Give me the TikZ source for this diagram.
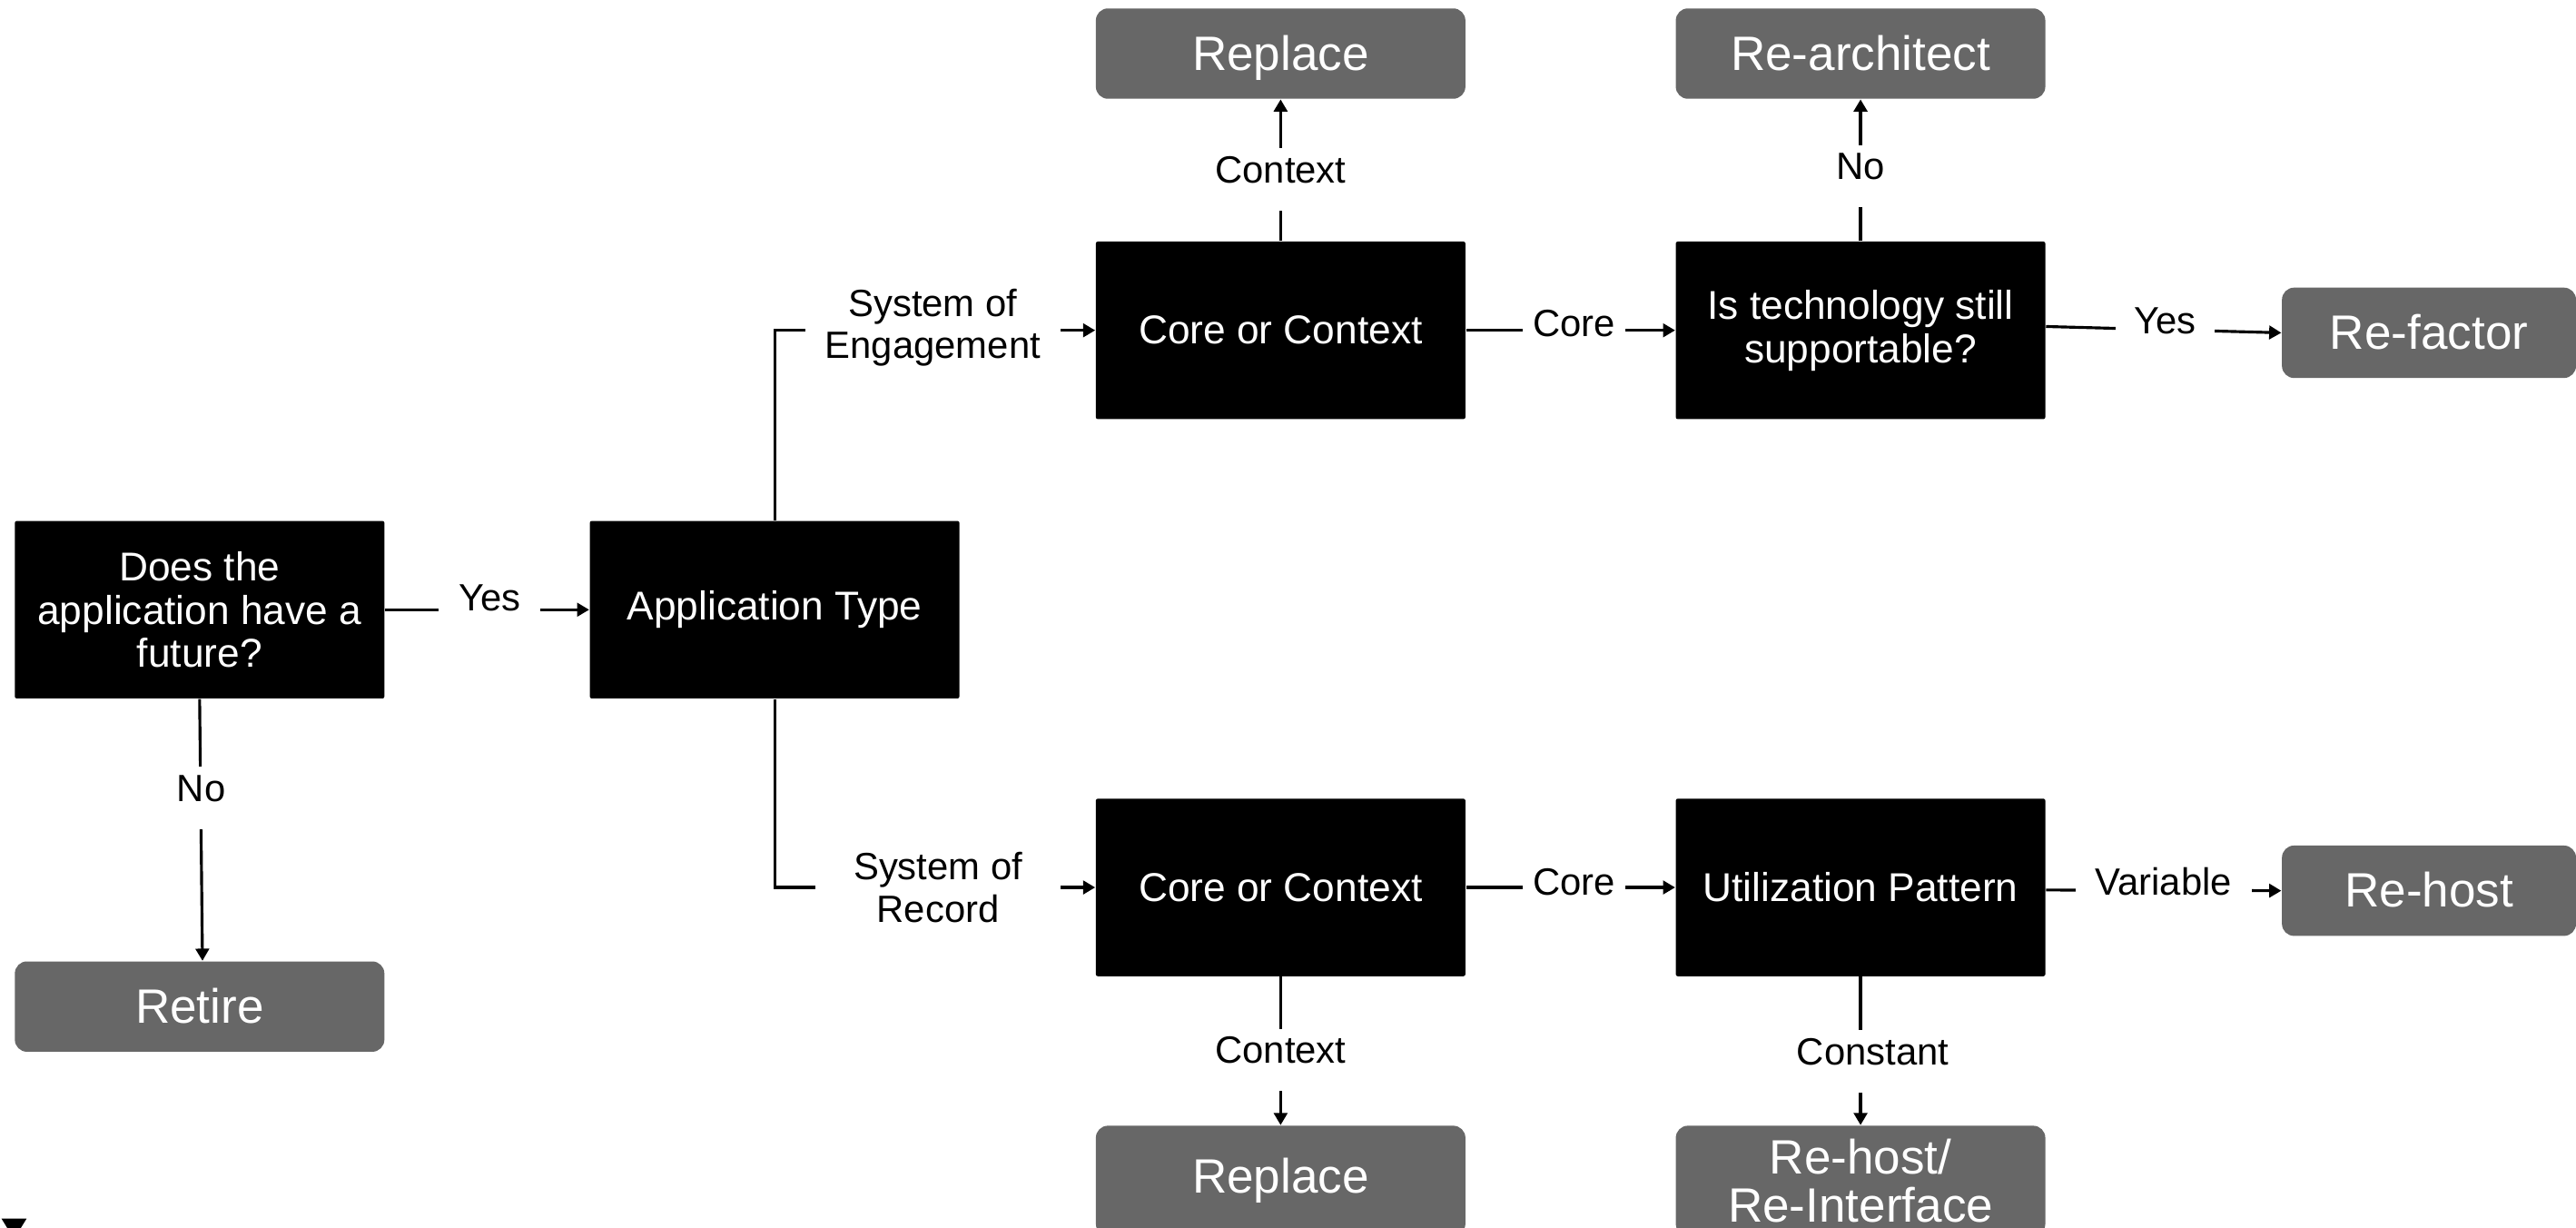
\documentclass[tikz,border=0pt]{standalone}
\usepackage{fontspec}
\setmainfont{Liberation Sans}
\usetikzlibrary{arrows.meta}
\definecolor{boxgray}{HTML}{676767}
\begin{document}
\begin{tikzpicture}[x=0.5148pt,y=-0.5148pt,
  base/.style={inner sep=0pt, align=center},
  decision/.style={base, fill=black, text=white, rounded corners=0.6pt,
    minimum width=115.8pt, minimum height=55.6pt,
    font=\fontsize{12.6pt}{13.6pt}\selectfont},
  outcome/.style={base, fill=boxgray, text=white, rounded corners=3.8pt,
    minimum width=115.8pt, minimum height=28.3pt,
    font=\fontsize{15.1pt}{15pt}\selectfont},
  outcomeone/.style={outcome, text height=10.8pt, text depth=0.4pt},
  conn/.style={line width=0.9pt, draw=black},
  arr/.style={conn, -{Triangle[length=3.8pt,width=4.2pt]}},
  lab/.style={base, fill=white, font=\fontsize{11.9pt}{13.1pt}\selectfont},
  labone/.style={lab, text height=10.81pt, text depth=8.75pt}
]
\useasboundingbox (0,0) rectangle (1568,746.7);
\clip (0,0) rectangle (1568,746.7);

% main nodes
\node[decision] (future) at (121.5,371) {Does the\\application have a\\future?};
\node[outcomeone] (retire) at (121.5,612.5) {Retire};
\node[decision] (apptype) at (471.5,371) {Application Type};
\node[decision] (cc1) at (779.5,201) {Core or Context};
\node[decision] (tech) at (1132.5,201) {Is technology still\\supportable?};
\node[outcomeone] (rep1) at (779.5,32.6) {Replace};
\node[outcomeone] (rearch) at (1132.5,32.6) {Re-architect};
\node[outcomeone, minimum width=92.15pt] (refactor) at (1478.5,202.5) {Re-factor};
\node[decision] (cc2) at (779.5,540) {Core or Context};
\node[decision] (util) at (1132.5,540) {Utilization Pattern};
\node[outcomeone, minimum width=92.15pt] (rehost) at (1478.5,542) {Re-host};
\node[outcome, minimum height=34.5pt] (rep2) at (779.5,718.5) {Replace};
\node[outcome, minimum height=34.5pt] (rehostif) at (1132.5,718.5) {Re-host/\\Re-Interface};

% connectors
\draw[arr] (future.east) -- (apptype.west);
\draw[arr] (future.south) -- ([xshift=0.9pt]retire.north);
\draw[arr] (apptype.north) |- (cc1.west);
\draw[arr] (apptype.south) |- (cc2.west);
\draw[arr] (cc1.east) -- (tech.west);
\draw[arr] (cc2.east) -- (util.west);
\draw[arr] (cc1.north) -- (rep1.south);
\draw[arr] (tech.north) -- (rearch.south);
\draw[arr] (cc2.south) -- (rep2.north);
\draw[arr] (util.south) -- (rehostif.north);
\draw[arr] ([yshift=1.2pt]tech.east) -- (refactor.west);
\draw[arr] ([yshift=-0.8pt]util.east) -- (rehost.west);

% connector labels
\node[labone, minimum width=31.9pt] (lyes) at (298,369.8) {Yes};
\node[labone] (lno) at (122.5,485.6) {No};
\node[lab, minimum width=80.1pt] (lse) at (567.8,199.5) {System of\\Engagement};
\node[lab, minimum width=76.7pt] (lsr) at (571,540) {System of\\Record};
\node[labone, minimum width=32.2pt] (lcore1) at (958.2,202.5) {Core};
\node[labone, minimum width=32.2pt] (lcore2) at (958.2,542.5) {Core};
\node[labone] (lctx1) at (779.5,109.2) {Context};
\node[labone] (lnotech) at (1132.5,107.2) {No};
\node[labone, minimum width=30.9pt] (lyes2) at (1318,201) {Yes};
\node[labone, minimum width=55.1pt] (lvar) at (1317,542.5) {Variable};
\node[labone] (lctx2) at (779.5,645) {Context};
\node[labone] (lconst) at (1140,646) {Constant};

% cut-off arrowhead at the lower left edge
\fill (0.9,741.5) -- (16.2,741.5) -- (8.55,753.9) -- cycle;
\end{tikzpicture}
\end{document}
